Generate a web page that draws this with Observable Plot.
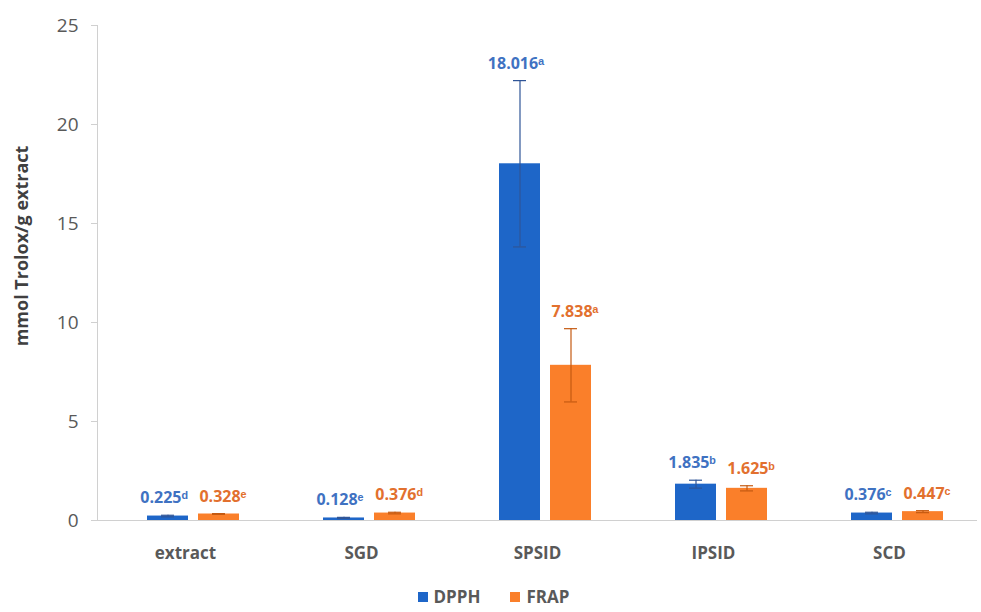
<!DOCTYPE html>
<html>
<head>
<meta charset="utf-8">
<script src="https://cdn.jsdelivr.net/npm/d3@7"></script>
<script src="https://cdn.jsdelivr.net/npm/@observablehq/plot@0.6"></script>
<style>
  html, body { margin: 0; padding: 0; background: #ffffff; width: 981px; height: 612px; overflow: hidden; }
  #chart svg { display: block; }
  g[aria-label="y-axis tick label"] { font-size: 19px; fill: #595959; }
  g[aria-label="fx-axis tick label"] { font-size: 17px; font-weight: bold; fill: #595959; }
  #legend { display: flex; justify-content: center; gap: 30px; margin-top: 7px; margin-left: 6px;
            font-family: "Open Sans", sans-serif; font-weight: bold; font-size: 17px; color: #595959; line-height: 16px; height: 16px; }
  #legend span.item { display: inline-flex; align-items: center; gap: 6px; }
  #legend span.sw { display: inline-block; width: 10px; height: 10px; }
</style>
</head>
<body>
<div id="chart"></div>
<div id="legend"></div>
<script>
const categories = ["extract", "SGD", "SPSID", "IPSID", "SCD"];
const series = ["DPPH", "FRAP"];
const dpph = [0.225, 0.128, 18.016, 1.835, 0.376];
const frap = [0.328, 0.376, 7.838, 1.625, 0.447];
const dpphErr = [0.04, 0.03, 4.2, 0.2, 0.04];
const frapErr = [0.02, 0.04, 1.85, 0.13, 0.05];
const dpphSig = ["d", "e", "a", "b", "c"];
const frapSig = ["e", "d", "a", "b", "c"];
const yTicks = [0, 5, 10, 15, 20, 25];
const yTitle = "mmol Trolox/g extract";

const barColors = ["#1E66C8", "#FA7F2A"];
const errColors = ["#2F5597", "#C55A11"];
const labelColors = ["#3F72C2", "#E2702E"];
const sup = {a: "\u1d43", b: "\u1d47", c: "\u1d9c", d: "\u1d48", e: "\u1d49"};

const rows = categories.flatMap((c, i) => [
  {cat: c, series: "DPPH", value: dpph[i], err: dpphErr[i], sig: dpphSig[i]},
  {cat: c, series: "FRAP", value: frap[i], err: frapErr[i], sig: frapSig[i]}
]);
const rowsD = rows.filter(d => d.series === "DPPH");
const rowsF = rows.filter(d => d.series === "FRAP");

function errMarks(data, color) {
  return [
    Plot.ruleX(data, {fx: "cat", x: "series", y1: d => d.value - d.err, y2: d => d.value + d.err, stroke: color, strokeWidth: 1.2}),
    Plot.tickY(data, {fx: "cat", x: "series", y: d => d.value + d.err, stroke: color, strokeWidth: 1.2, insetLeft: 14, insetRight: 14}),
    Plot.tickY(data, {fx: "cat", x: "series", y: d => d.value - d.err, stroke: color, strokeWidth: 1.2, insetLeft: 14, insetRight: 14})
  ];
}
function labelMarks(data, color, shift) {
  return Plot.text(data, {
    fx: "cat", x: "series", y: d => d.value + d.err,
    text: d => d.value.toFixed(3) + sup[d.sig],
    dy: -17, dx: shift, fill: color, fontSize: 16, fontWeight: "bold", lineAnchor: "middle"
  });
}

const chart = Plot.plot({
  width: 981,
  height: 582,
  marginLeft: 97,
  marginRight: 4,
  marginTop: 25,
  marginBottom: 62,
  style: {fontFamily: "Open Sans, sans-serif", background: "#ffffff", color: "#d0d0d0", overflow: "visible"},
  fx: {domain: categories, padding: 0, label: null, tickSize: 0, tickPadding: 26},
  x: {domain: series, paddingInner: 0.19, paddingOuter: 0.79, align: 0.6, axis: null},
  y: {domain: [0, 25], ticks: yTicks, tickSize: 6, tickPadding: 13, line: true, label: null},
  color: {domain: series, range: barColors},
  marks: [
    Plot.ruleY([0], {stroke: "#d0d0d0"}),
    Plot.barY(rows, {fx: "cat", x: "series", y: "value", fill: "series"}),
    ...errMarks(rowsD, errColors[0]),
    ...errMarks(rowsF, errColors[1]),
    labelMarks(rowsD, labelColors[0], -4),
    labelMarks(rowsF, labelColors[1], 4),
    Plot.text([yTitle], {fx: () => categories[0], frameAnchor: "left", rotate: -90, dx: -75, dy: -27,
      textAnchor: "middle", text: d => d, fontSize: 18, fontWeight: "bold", fill: "#404040"})
  ]
});
document.getElementById("chart").appendChild(chart);

const legend = document.getElementById("legend");
series.forEach((s, i) => {
  const item = document.createElement("span");
  item.className = "item";
  const sw = document.createElement("span");
  sw.className = "sw";
  sw.style.background = barColors[i];
  item.appendChild(sw);
  item.appendChild(document.createTextNode(s));
  legend.appendChild(item);
});
</script>
</body>
</html>
